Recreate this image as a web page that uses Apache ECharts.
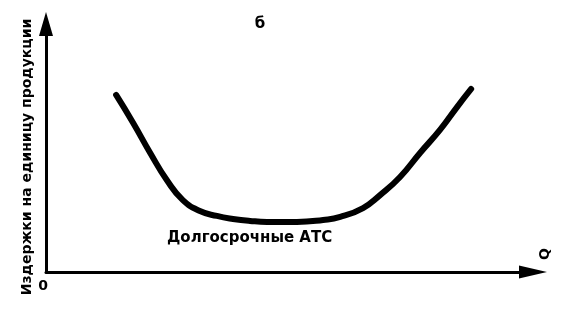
<!DOCTYPE html>
<html>
<head>
<meta charset="utf-8">
<script src="https://cdn.jsdelivr.net/npm/echarts@6/dist/echarts.min.js"></script>
<style>html,body{margin:0;padding:0;background:#fff}#c{width:562px;height:310px}</style>
</head>
<body>
<div id="c"></div>
<script>
// Output Q (relative units) and long-run average cost (relative units)
const quantity = [14.4, 17.9, 21.4, 24.8, 28.1, 31.6, 35.1, 38.4, 41.9, 45.4, 51.5, 56.9, 60.4, 65.1, 68.6, 72.7, 76.8, 80.9, 84.4, 87.3];
const longRunATC = [71.4, 60.1, 48.0, 37.1, 29.0, 24.6, 22.6, 21.4, 20.6, 20.2, 20.2, 21.0, 22.2, 25.8, 31.0, 38.3, 48.0, 57.3, 66.5, 73.8];
const titleText = 'б';
const yAxisTitle = 'Издержки на единицу продукции';
const xAxisTitle = 'Q';
const originLabel = '0';
const curveLabel = 'Долгосрочные АТС';

const chart = echarts.init(document.getElementById('c'), null, {renderer: 'canvas'});
const font = '"DejaVu Sans", "Liberation Sans", sans-serif';
const axisCommon = {
  type: 'value', min: 0, max: 100,
  axisTick: {show: false}, axisLabel: {show: false}, splitLine: {show: false}
};
chart.setOption({
  animation: false,
  backgroundColor: '#fff',
  grid: {left: 46, right: 29, top: 24, bottom: 38},
  xAxis: Object.assign({}, axisCommon, {
    axisLine: {show: true, symbol: ['none', 'triangle'], symbolSize: [13, 28], lineStyle: {color: '#000', width: 3}}
  }),
  yAxis: Object.assign({}, axisCommon, {
    axisLine: {show: true, symbol: ['none', 'triangle'], symbolSize: [14, 24], lineStyle: {color: '#000', width: 3}}
  }),
  series: [{
    type: 'line',
    data: quantity.map((q, i) => [q, longRunATC[i]]),
    smooth: 0.5,
    symbol: 'none',
    lineStyle: {color: '#000', width: 6, cap: 'round', join: 'round'}
  }],
  graphic: [
    {type: 'text', x: 260, y: 24, style: {text: titleText, font: 'bold 15px ' + font, fill: '#000', align: 'center', verticalAlign: 'middle'}},
    {type: 'text', x: 27, y: 157, rotation: Math.PI / 2, style: {text: yAxisTitle, font: 'bold 14px ' + font, fill: '#000', align: 'center', verticalAlign: 'middle'}},
    {type: 'text', x: 43, y: 286, style: {text: originLabel, font: 'bold 14px ' + font, fill: '#000', align: 'center', verticalAlign: 'middle'}},
    {type: 'text', x: 545, y: 254, rotation: Math.PI / 2, style: {text: xAxisTitle, font: 'bold 14px ' + font, fill: '#000', align: 'center', verticalAlign: 'middle'}},
    {type: 'text', x: 167, y: 238, style: {text: curveLabel, font: 'bold 15px ' + font, fill: '#000', align: 'left', verticalAlign: 'middle'}}
  ]
});
</script>
</body>
</html>
